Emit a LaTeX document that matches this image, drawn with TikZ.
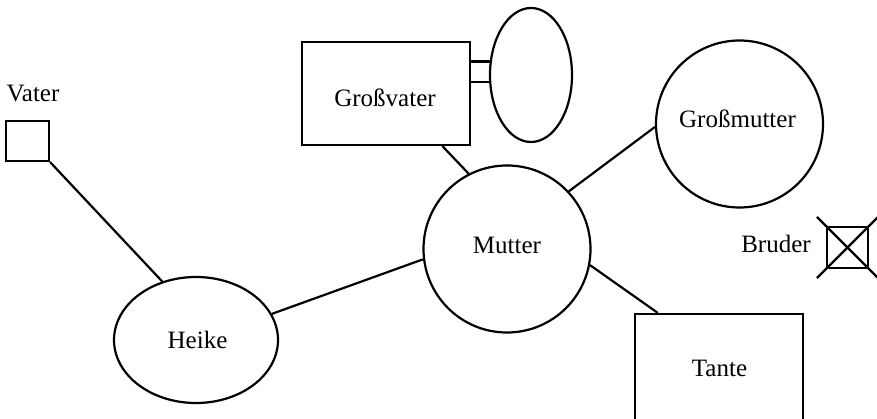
\documentclass[tikz,border=0pt]{standalone}
\usepackage{fontspec}
\setmainfont{Liberation Serif}
\usetikzlibrary{shapes.geometric,shapes.misc}
\begin{document}
\begin{tikzpicture}[x=1pt,y=-1pt,
  every node/.style={font=\fontsize{25}{30}\selectfont},
  shp/.style={draw, line width=2.2pt, inner sep=0pt},
  boxn/.style={shp, rectangle},
  ellip/.style={shp, ellipse},
  circ/.style={shp, circle},
  lbl/.style={inner sep=0pt, anchor=base},
  conn/.style={line width=2.2pt}]
\useasboundingbox (0,0) rectangle (877,419);
% shapes
\node[boxn, minimum width=43pt, minimum height=40pt] (vater) at (27.5,141) {};
\node[boxn, minimum width=168pt, minimum height=103pt] (gv) at (386,93.5) {};
\node[ellip, minimum width=82pt, minimum height=134pt] (gvp) at (531,75) {};
\node[circ, minimum size=167pt] (mutter) at (507,249) {};
\node[circ, minimum size=167pt] (gm) at (739.5,124) {};
\node[ellip, minimum width=164pt, minimum height=126pt] (heike) at (196,340) {};
\node[boxn, minimum width=168pt, minimum height=116pt] (tante) at (719,372) {};
\node[boxn, minimum size=41pt] (bruder) at (847.5,247.5) {};
\node[cross out, draw, line width=2.2pt, inner sep=0pt, minimum size=59pt] (bruderx) at (bruder.center) {};
% labels
\node[lbl] (tvater) at (33,102) {Vater};
\node[lbl] (tgv) at (385,107) {Großvater};
\node[lbl] (tmutter) at (507,254) {Mutter};
\node[lbl] (tgm) at (737.5,127.3) {Großmutter};
\node[lbl] (theike) at (197.5,348.3) {Heike};
\node[lbl] (ttante) at (719.5,376.7) {Tante};
\node[lbl] (tbruder) at (776,253) {Bruder};
% connectors
\draw[conn] (vater.south east) -- (heike.120);
\draw[conn] (heike.19.3) -- (mutter.187.5);
\draw[conn] (gv.-43.1) -- (mutter.117.8);
\draw[conn] (mutter.43.6) -- (gm.182);
\draw[conn] (mutter.-11) -- (tante.136);
\draw[conn] (gvp.162) -- (gvp.162 -| gv.east);
\draw[conn] (gvp.189.7) -- (gvp.189.7 -| gv.east);
\end{tikzpicture}
\end{document}
